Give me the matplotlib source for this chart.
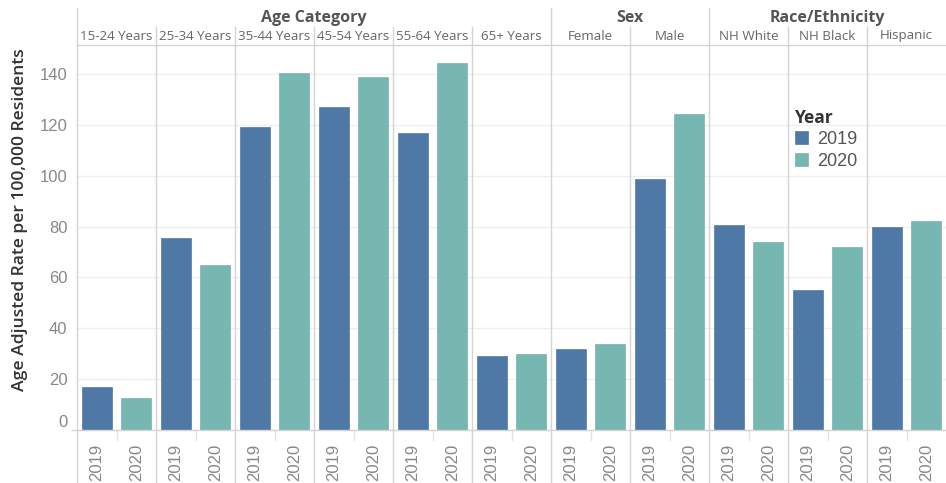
import numpy as np
import matplotlib.pyplot as plt
from matplotlib.transforms import blended_transform_factory

## Data
groups = ["Age Category", "Sex", "Race/Ethnicity"]
group_sizes = [6, 2, 3]
categories = ["15-24 Years", "25-34 Years", "35-44 Years", "45-54 Years", "55-64 Years",
              "65+ Years", "Female", "Male", "NH White", "NH Black", "Hispanic"]
years = ["2019", "2020"]
rate_2019 = [17.1, 75.6, 119.2, 126.9, 116.7, 29.1, 31.9, 98.9, 80.5, 55.1, 79.9]
rate_2020 = [12.6, 65.0, 140.5, 138.9, 144.3, 29.9, 33.8, 124.3, 74.1, 71.9, 82.1]
yticks = [0, 20, 40, 60, 80, 100, 120, 140]

c2019 = "#4e79a7"
c2020 = "#76b7b2"
sep = "#d4d4d4"
W, H = 946, 483

def fy(py):
    return 1 - py / H

fig = plt.figure(figsize=(W / 100, H / 100), dpi=100)
ax = fig.add_axes([77 / W, fy(430), 869 / W, (430 - 45) / H])

n = len(categories)
x19 = np.arange(n) * 2
x20 = x19 + 1
ax.bar(x19, rate_2019, width=0.76, color=c2019, edgecolor="#3f6a96", linewidth=0.4, label="2019", zorder=3)
ax.bar(x20, rate_2020, width=0.76, color=c2020, edgecolor="#66a8a3", linewidth=0.4, label="2020", zorder=3)

ax.set_xlim(-0.5, 2 * n - 0.5)
ax.set_ylim(0, 151.4)
ax.set_xticks([])
ax.set_yticks(yticks)
ax.set_yticklabels([str(v) for v in yticks], fontsize=12, color="#888888", family="Liberation Sans")
ax.tick_params(axis="y", length=0, pad=7)
ax.get_yticklabels()[0].set_verticalalignment("bottom")
ax.grid(axis="y", color="#efefef", linewidth=0.9, zorder=0)
for s in ax.spines.values():
    s.set_visible(False)

tr = blended_transform_factory(ax.transData, fig.transFigure)

# top line of the pane and bottom axis line
fig.add_artist(plt.Line2D([77 / W, 1], [fy(45), fy(45)], color=sep, lw=1))
fig.add_artist(plt.Line2D([72 / W, 1], [fy(430), fy(430)], color=sep, lw=1))
fig.add_artist(plt.Line2D([77 / W, 77 / W], [fy(8), 0], color=sep, lw=1))

# column separators
starts = np.cumsum([0] + group_sizes)
for i in range(1, n):
    xb = 2 * i - 0.5
    top = 8 if i in starts else 27
    ax.plot([xb, xb], [fy(top), 0], color=sep, lw=1, transform=tr, clip_on=False)
    ax.plot([xb - 1, xb - 1], [fy(430), fy(440)], color="#e4e4e4", lw=1, transform=tr, clip_on=False)
ax.plot([2 * n - 1.5, 2 * n - 1.5], [fy(430), fy(440)], color="#e4e4e4", lw=1, transform=tr, clip_on=False)

# headers
for g, a, b in zip(groups, starts[:-1], starts[1:]):
    ax.text((2 * a + 2 * b - 1) / 2, fy(18), g, transform=tr, ha="center", va="center",
            fontsize=11.5, fontweight="bold", color="#555555", family="Open Sans")
for i, c in enumerate(categories):
    ax.text(2 * i + 0.5, fy(36), c, transform=tr, ha="center", va="center",
            fontsize=9.6, color="#666666", family="Open Sans")

# year labels under each bar
for i in range(n):
    for k, yr in enumerate(years):
        ax.text(2 * i + k, fy(444), yr, transform=tr, ha="center", va="top", rotation=90,
                fontsize=12, color="#888888", family="Liberation Sans")

fig.text(20 / W, fy(220), "Age Adjusted Rate per 100,000 Residents", rotation=90,
         ha="center", va="center", fontsize=12.6, color="#333333", family="Open Sans",
         fontweight="semibold")

leg = ax.legend(title="Year", loc="upper left", bbox_to_anchor=(791 / W, fy(105)),
                bbox_transform=fig.transFigure, frameon=False, fontsize=13,
                handlelength=0.75, handleheight=0.75, handletextpad=0.5,
                labelspacing=0.25, borderaxespad=0, borderpad=0.2, alignment="left")
leg.get_title().set_fontsize(12.5)
leg.get_title().set_fontweight("bold")
leg.get_title().set_color("#333333")
leg.get_title().set_family("Open Sans")
for t in leg.get_texts():
    t.set_color("#555555")
    t.set_family("Liberation Sans")

plt.savefig("out.png", dpi=100)
